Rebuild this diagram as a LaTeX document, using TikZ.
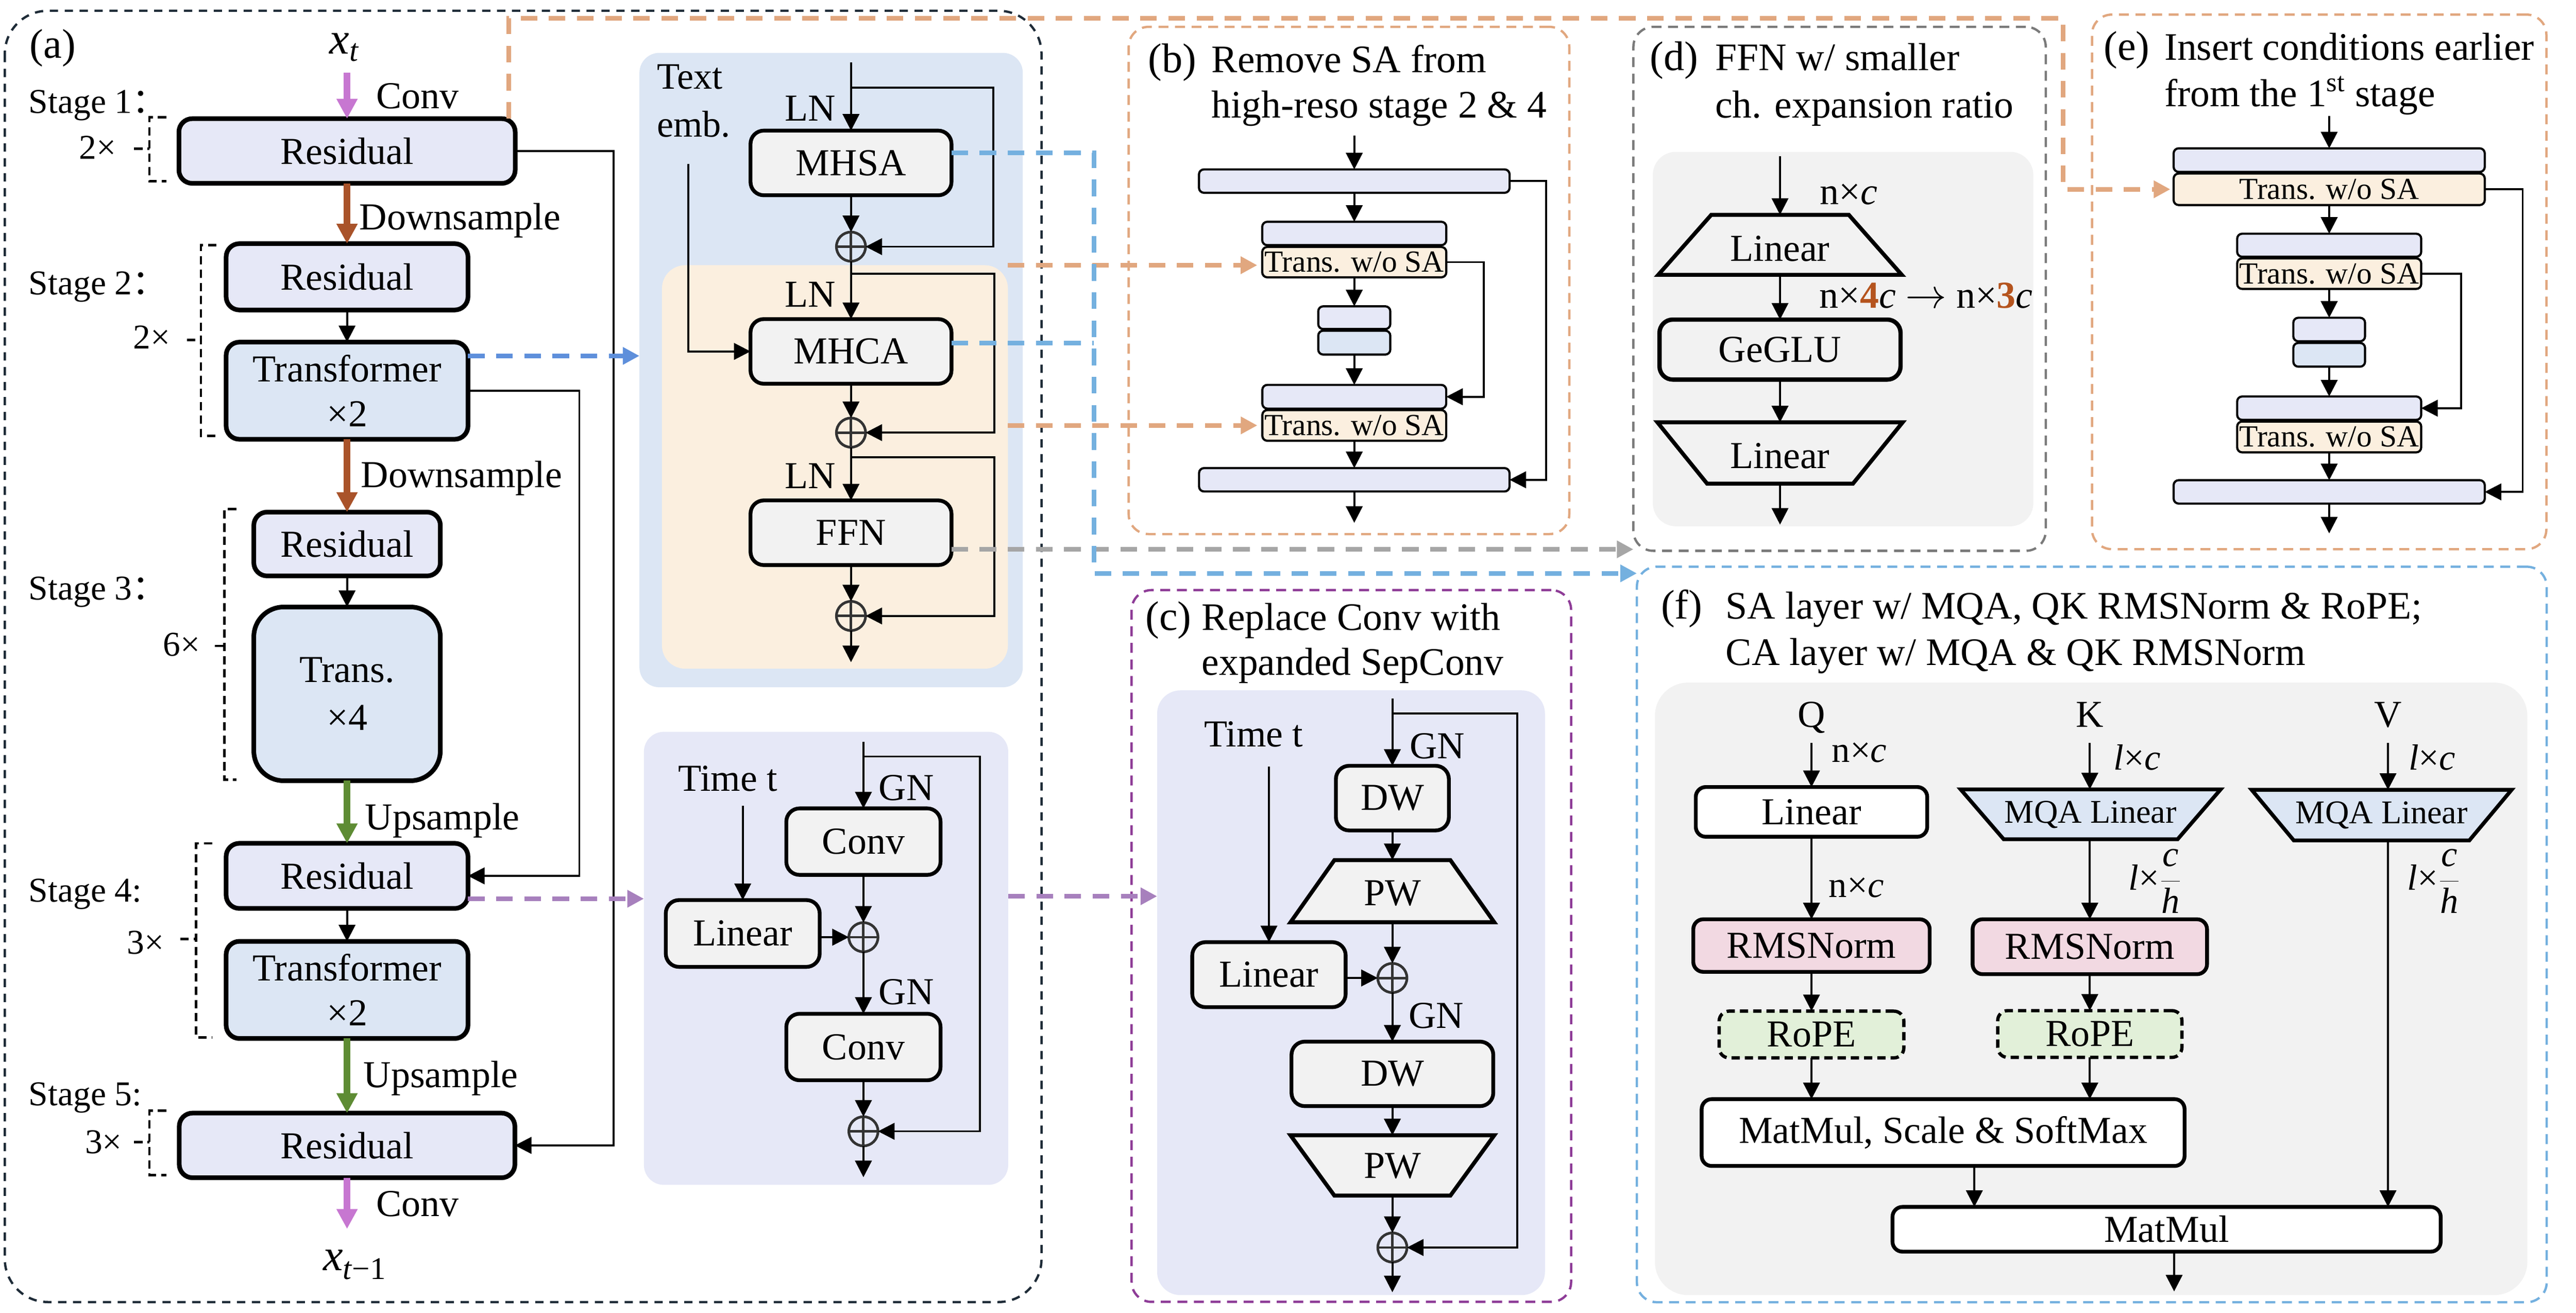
\documentclass[tikz,border=0pt]{standalone}
\usepackage{fontspec}
\setmainfont{Liberation Serif}
\newfontfamily\cjk{Noto Sans CJK SC}
\usetikzlibrary{arrows.meta}
\definecolor{lav}{HTML}{E6E8F7}
\definecolor{lblue}{HTML}{DCE6F4}
\definecolor{cream}{HTML}{FBEFDF}
\definecolor{modgray}{HTML}{F2F2F2}
\definecolor{fgray}{HTML}{F2F2F2}
\definecolor{orng}{HTML}{E1A77F}
\definecolor{bluea}{HTML}{5E8FDB}
\definecolor{blueb}{HTML}{74B0DF}
\definecolor{grayd}{HTML}{A6A6A6}
\definecolor{purp}{HTML}{A780BD}
\definecolor{purpbox}{HTML}{8E3C97}
\definecolor{slate}{HTML}{1E2B37}
\definecolor{dgrayb}{HTML}{7A7A7A}
\definecolor{magen}{HTML}{C777D1}
\definecolor{brwn}{HTML}{A9532A}
\definecolor{grn}{HTML}{5E8C34}
\definecolor{pinkf}{HTML}{F2D9E2}
\definecolor{greenf}{HTML}{E2F0D9}
\definecolor{hl}{HTML}{B5541E}
\newcommand{\myfA}{\fontsize{23}{27}\selectfont}
\newcommand{\myfT}{\fontsize{23.5}{27}\selectfont}
\newcommand{\myfS}{\fontsize{21}{24}\selectfont}
\newcommand{\myfB}{\fontsize{18.5}{20}\selectfont}
\newcommand{\myfP}{\fontsize{25}{28}\selectfont}
\newcommand{\myfQ}{\fontsize{20}{22}\selectfont}
\newcommand{\myfrac}[2]{$\displaystyle\frac{\textit{#1}}{\textit{#2}}$}
\tikzset{
  every node/.style={inner sep=0pt, outer sep=0pt, font=\myfA},
  arr/.style={line width=1.2pt, -{Triangle[length=10pt,width=10pt]}},
  fatarr/.style={line width=4pt, -{Triangle[length=12pt,width=12pt]}},
  bigbox/.style={draw, line width=2.8pt, rounded corners=8pt, align=center},
  modbox/.style={draw, line width=2.3pt, rounded corners=8pt, fill=modgray},
  fbx/.style={draw, line width=2.3pt, rounded corners=6pt, fill=white},
  barbox/.style={draw, line width=1.3pt, rounded corners=3pt, fill=lav},
  barc/.style={draw, line width=1.3pt, rounded corners=3pt, fill=cream, font=\myfB},
  cdash/.style={line width=2.8pt, dash pattern=on 10pt off 7pt, -{Triangle[length=10pt,width=10pt]}},
  cdashn/.style={line width=2.8pt, dash pattern=on 10pt off 7pt},
  panel/.style={line width=1.4pt, dash pattern=on 6pt off 4pt, rounded corners=12pt},
  brk/.style={line width=1.5pt, dash pattern=on 5pt off 3pt},
  opl/.style={circle, draw=black!80, line width=1.6pt, minimum size=17.6pt, inner sep=0pt,
    path picture={\draw[line width=1.5pt, black!80] (path picture bounding box.north) -- (path picture bounding box.south) (path picture bounding box.west) -- (path picture bounding box.east);}},
  trap/.style={draw, line width=2.4pt, line join=miter},
  lbl/.style={anchor=base west},
  lble/.style={anchor=base east},
}
\begin{document}
\begin{tikzpicture}[x=1pt,y=-1pt]
\fill[white] (0,0) rectangle (1555,791.9);
\useasboundingbox (0,0) rectangle (1555,791.9);

% ================= panel frames =================
\draw[panel, draw=slate, rounded corners=26pt, dash pattern=on 5pt off 4pt] (2.9,6.5) rectangle (628.7,785.5);
\node[panel, draw=orng, minimum width=266pt, minimum height=306pt] (bbox) at (814.3,169.2) {};
\node[panel, draw=dgrayb, minimum width=248.9pt, minimum height=316.1pt] (dbox) at (1110.45,174.25) {};
\node[panel, draw=orng, minimum width=274.3pt, minimum height=322.5pt] (ebox) at (1399.95,170.05) {};
\node[panel, draw=purpbox, minimum width=265.3pt, minimum height=429.4pt] (cbox) at (815.75,570.7) {};
\node[panel, draw=blueb, minimum width=549.2pt, minimum height=443.7pt] (fbox) at (1262.7,563.75) {};

% ================= background fills =================
\node[fill=lblue, rounded corners=12pt, minimum width=231.4pt, minimum height=382.7pt] (tfbox) at (501.7,223.25) {};
\node[fill=cream, rounded corners=14pt, minimum width=208.8pt, minimum height=243.4pt] (crbox) at (504,281.7) {};
\node[fill=lav, rounded corners=12pt, minimum width=219.9pt, minimum height=273.3pt] (rbox) at (498.65,578.15) {};
\node[fill=fgray, rounded corners=14pt, minimum width=229.7pt, minimum height=225.9pt] (dg) at (1112.55,204.55) {};
\node[fill=lav, rounded corners=14pt, minimum width=234.1pt, minimum height=364.8pt] (cin) at (815.55,598.9) {};
\node[fill=fgray, rounded corners=20pt, minimum width=526.6pt, minimum height=369.5pt] (fg) at (1262.3,596.55) {};

% ================= panel (a) =================
\node[lbl, font=\myfP] at (18,35) {(a)};
\node[lbl, font=\fontsize{27}{30}\selectfont] (xt) at (199,32.5) {\textit{x}\raisebox{-4.5pt}{\fontsize{19}{20}\selectfont\itshape t}};
\node[bigbox, fill=lav, minimum width=203pt, minimum height=39pt] (r1) at (209.5,91.1) {Residual};
\node[bigbox, fill=lav, minimum width=146pt, minimum height=40pt] (r2) at (209.5,167) {Residual};
\node[bigbox, fill=lblue, minimum width=146pt, minimum height=58.6pt] (t2) at (209.5,235.7) {Transformer\\×2};
\node[bigbox, fill=lav, minimum width=112.6pt, minimum height=38.5pt] (r3) at (209.5,328.2) {Residual};
\node[bigbox, fill=lblue, rounded corners=18pt, minimum width=112.6pt, minimum height=104.8pt] (t3) at (209.5,418.6) {Trans.\\[2pt]×4};
\node[bigbox, fill=lav, minimum width=146pt, minimum height=39.3pt] (r4) at (209.5,528.4) {Residual};
\node[bigbox, fill=lblue, minimum width=146pt, minimum height=58.6pt] (t4) at (209.5,597.2) {Transformer\\×2};
\node[bigbox, fill=lav, minimum width=202.6pt, minimum height=39pt] (r5) at (209.5,691) {Residual};
\node[lbl, font=\fontsize{27}{30}\selectfont] (xt1) at (195,766.6) {\textit{x}\raisebox{-5pt}{\fontsize{19}{20}\selectfont\textit{t}−1}};

\coordinate (xs) at (209.5,43.7);
\coordinate (xe) at (209.5,741.4);
\draw[fatarr, magen] (xs) -- (r1.north);
\node[lbl] (cv0) at (227.2,65.6) {Conv};
\draw[fatarr, brwn] (r1.south) -- (r2.north);
\node[lbl] (ds1) at (217,138.7) {Downsample};
\draw[arr] (r2.south) -- (t2.north);
\draw[fatarr, brwn] (t2.south) -- (r3.north);
\node[lbl] (ds2) at (218,294.1) {Downsample};
\draw[arr] (r3.south) -- (t3.north);
\draw[fatarr, grn] (t3.south) -- (r4.north);
\node[lbl] (us1) at (220.4,500.5) {Upsample};
\draw[arr] (r4.south) -- (t4.north);
\draw[fatarr, grn] (t4.south) -- (r5.north);
\node[lbl] (us2) at (219.5,656.1) {Upsample};
\draw[fatarr, magen] (r5.south) -- (xe);
\node[lbl] (cv9) at (227.2,733.7) {Conv};

\node[lbl, font=\myfS] (s1) at (17.4,68.2) {Stage 1{\cjk ：}};
\node[lbl, font=\myfS] (s2) at (17.4,177.8) {Stage 2{\cjk ：}};
\node[lbl, font=\myfS] (s3) at (17.4,361.8) {Stage 3{\cjk ：}};
\node[lbl, font=\myfS] (s4) at (17.4,544.2) {Stage 4:};
\node[lbl, font=\myfS] (s5) at (17.4,666.9) {Stage 5:};
\node[lble, font=\myfS] (m1) at (70.1,95.8) {2×};
\node[lble, font=\myfS] (m2) at (102.7,210.3) {2×};
\node[lble, font=\myfS] (m3) at (120.9,395.7) {6×};
\node[lble, font=\myfS] (m4) at (99.1,575.6) {3×};
\node[lble, font=\myfS] (m5) at (73.7,696) {3×};

\draw[brk] (100.3,70.8) -- (90.2,70.8) -- (90.2,109.3) -- (100.3,109.3);
\draw[brk] (81,89.8) -- (90.2,89.8);
\draw[brk] (130.5,147.8) -- (121.3,147.8) -- (121.3,263) -- (130.5,263);
\draw[brk] (113,205) -- (121.3,205);
\draw[brk] (142.6,307) -- (135.4,307) -- (135.4,470.5) -- (142.6,470.5);
\draw[brk] (129.8,389.7) -- (135.4,389.7);
\draw[brk] (128,508.8) -- (118.4,508.8) -- (118.4,625.8) -- (128,625.8);
\draw[brk] (108.8,566.6) -- (118.4,566.6);
\draw[brk] (100.3,670) -- (90.2,670) -- (90.2,708.8) -- (100.3,708.8);
\draw[brk] (81,689) -- (90.2,689);

\coordinate (sa) at (370.3,0);
\coordinate (sb) at (349.7,0);
\draw[arr] (r1.east) -- (r1.east -| sa) -- (r5.east -| sa) -- (r5.east);
\draw[arr] (t2.east) -- (t2.east -| sb) -- (r4.east -| sb) -- (r4.east);

% ================= transformer detail =================
\node[lbl, font=\fontsize{22.5}{26}\selectfont] (te1) at (396.6,53.8) {Text};
\node[lbl, font=\fontsize{22.5}{26}\selectfont] (te2) at (396.6,82.7) {emb.};
\node[modbox, minimum width=121.3pt, minimum height=39pt] (mhsa) at (513.7,98.3) {MHSA};
\node[opl] (p1) at (513.7,148.8) {};
\node[modbox, minimum width=121.3pt, minimum height=39pt] (mhca) at (513.7,212) {MHCA};
\node[opl] (p2) at (513.7,261) {};
\node[modbox, minimum width=121.3pt, minimum height=39pt] (ffn) at (513.7,321.4) {FFN};
\node[opl] (p3) at (513.7,371.6) {};
\node[lble] (ln1) at (504.5,72.8) {LN};
\node[lble] (ln2) at (504.5,185.3) {LN};
\node[lble] (ln3) at (504.5,294.8) {LN};
\coordinate (tin) at (513.7,37.7);
\coordinate (tout) at (513.7,399.5);
\coordinate (tx) at (599.6,0);
\coordinate (tx2) at (600.2,0);
\coordinate (j1) at (513.7,52.8);
\coordinate (j2) at (513.7,165.2);
\coordinate (j3) at (513.7,275.8);
\coordinate (te) at (415.5,98.8);
\draw[arr] (tin) -- (mhsa.north);
\draw[arr] (j1) -- (j1 -| tx) -- (p1.east -| tx) -- (p1.east);
\draw[arr] (mhsa.south) -- (p1.north);
\draw[arr] (p1.south) -- (mhca.north);
\draw[arr] (j2) -- (j2 -| tx2) -- (p2.east -| tx2) -- (p2.east);
\draw[arr] (mhca.south) -- (p2.north);
\draw[arr] (p2.south) -- (ffn.north);
\draw[arr] (j3) -- (j3 -| tx2) -- (p3.east -| tx2) -- (p3.east);
\draw[arr] (ffn.south) -- (p3.north);
\draw[arr] (p3.south) -- (tout);
\draw[arr] (te) |- (mhca.west);

% ================= residual detail =================
\node[modbox, minimum width=93.1pt, minimum height=40.1pt] (cv1) at (521.2,507.75) {Conv};
\node[opl] (q1) at (521.2,565.4) {};
\node[modbox, minimum width=92.9pt, minimum height=40.3pt] (lin) at (448.35,563.15) {Linear};
\node[modbox, minimum width=93.1pt, minimum height=40.1pt] (cv2) at (521.2,631.65) {Conv};
\node[opl] (q2) at (521.2,682.5) {};
\node[lbl] (tt0) at (409.5,477.2) {Time t};
\node[lbl] (gn1) at (530.5,482.7) {GN};
\node[lbl] (gn2) at (530.5,606.1) {GN};
\coordinate (rin) at (521.2,447.4);
\coordinate (rj) at (521.2,456.4);
\coordinate (rx) at (591.5,0);
\coordinate (rout) at (521.2,710.2);
\coordinate (tt) at (448.35,486.1);
\draw[arr] (rin) -- (cv1.north);
\draw[arr] (rj) -- (rj -| rx) -- (q2.east -| rx) -- (q2.east);
\draw[arr] (cv1.south) -- (q1.north);
\draw[arr] (tt) -- (lin.north);
\draw[arr] (lin.east |- q1) -- (q1.west);
\draw[arr] (q1.south) -- (cv2.north);
\draw[arr] (cv2.south) -- (q2.north);
\draw[arr] (q2.south) -- (rout);

% ================= panel (b) =================
\node[lbl, font=\myfP] (bl) at (693,43.6) {(b)};
\node[lbl, font=\myfT] (bt1) at (731.4,43.6) {Remove SA from};
\node[lbl, font=\myfT] (bt2) at (731.4,71) {high-reso stage 2 \& 4};
\node[barbox, minimum width=187.5pt, minimum height=14.1pt] (b1) at (817.5,109.25) {};
\node[barbox, minimum width=111.1pt, minimum height=14.1pt] (b2) at (817.5,140.85) {};
\node[barc, minimum width=111.1pt, minimum height=18.3pt] (b2b) at (817.5,158.15) {Trans. w/o SA};
\node[barbox, minimum width=43.5pt, minimum height=13.7pt] (bs1) at (817.5,191.65) {};
\node[barbox, fill=lblue, minimum width=43.5pt, minimum height=14.4pt] (bs2) at (817.5,206.7) {};
\node[barbox, minimum width=111pt, minimum height=14.3pt] (b3) at (817.5,239.35) {};
\node[barc, minimum width=111pt, minimum height=18.5pt] (b3b) at (817.5,256.65) {Trans. w/o SA};
\node[barbox, minimum width=187.4pt, minimum height=14.1pt] (b4) at (817.5,289.45) {};
\coordinate (bin) at (817.5,81.9);
\coordinate (bout) at (817.5,315.4);
\coordinate (bx1) at (933.2,0);
\coordinate (bx2) at (895.6,0);
\draw[arr] (bin) -- (b1.north);
\draw[arr] (b1.south) -- (b2.north);
\draw[arr] (b2b.south) -- (bs1.north);
\draw[arr] (bs2.south) -- (b3.north);
\draw[arr] (b3b.south) -- (b4.north);
\draw[arr] (b4.south) -- (bout);
\draw[arr] (b1.east) -- (b1.east -| bx1) -- (b4.east -| bx1) -- (b4.east);
\draw[arr] (b2b.east) -- (b2b.east -| bx2) -- (b3.east -| bx2) -- (b3.east);

% ================= panel (d) =================
\node[lbl, font=\myfP] (dl) at (995.9,42.5) {(d)};
\node[lbl, font=\myfT] (dt1) at (1035.4,42.5) {FFN w/ smaller};
\node[lbl, font=\myfT] (dt2) at (1035.4,71) {ch. expansion ratio};
\draw[trap, fill=fgray] (1033,129.6) -- (1116,129.6) -- (1148,165.8) -- (1001,165.8) -- cycle;
\node (dl1) at (1074.5,150) {Linear};
\coordinate (dl1t) at (1074.5,129.6);
\coordinate (dl1b) at (1074.5,165.8);
\node[modbox, line width=2.6pt, minimum width=145.5pt, minimum height=36.2pt] (geglu) at (1074.5,210.9) {GeGLU};
\draw[trap, fill=fgray] (1000.5,254.8) -- (1148.5,254.8) -- (1118.5,291.8) -- (1030.5,291.8) -- cycle;
\node (dl2) at (1074.5,275) {Linear};
\coordinate (dl2t) at (1074.5,254.8);
\coordinate (dl2b) at (1074.5,291.8);
\coordinate (din) at (1074.5,94.2);
\coordinate (dout) at (1074.5,316.5);
\draw[arr] (din) -- (dl1t);
\draw[arr] (dl1b) -- (geglu.north);
\draw[arr] (geglu.south) -- (dl2t);
\draw[arr] (dl2b) -- (dout);
\node[lbl] (dnc) at (1098.7,123.3) {n×\textit{c}};
\node[lbl] (dnc2) at (1098.3,185.8) {n×{\color{hl}\bfseries 4}\textit{c} $\rightarrow$ n×{\color{hl}\bfseries 3}\textit{c}};

% ================= panel (e) =================
\node[lbl, font=\myfP] (el) at (1269.9,36.2) {(e)};
\node[lbl, font=\myfT] (et1) at (1306.5,36.2) {Insert conditions earlier};
\node[lbl, font=\myfT] (et2) at (1306.5,64.3) {from the 1\textsuperscript{st} stage};
\node[barbox, minimum width=187.8pt, minimum height=14.2pt] (e1) at (1406,96.6) {};
\node[barc, minimum width=187.8pt, minimum height=19pt] (e1b) at (1406,114.2) {Trans. w/o SA};
\node[barbox, minimum width=111.1pt, minimum height=13.9pt] (e2) at (1406,147.95) {};
\node[barc, minimum width=111.1pt, minimum height=18.4pt] (e2b) at (1406,165.1) {Trans. w/o SA};
\node[barbox, minimum width=43.3pt, minimum height=14.2pt] (es1) at (1406,198.8) {};
\node[barbox, fill=lblue, minimum width=43.3pt, minimum height=14.3pt] (es2) at (1406,214.05) {};
\node[barbox, minimum width=111.1pt, minimum height=14.1pt] (e3) at (1406,246.25) {};
\node[barc, minimum width=111.1pt, minimum height=18.6pt] (e3b) at (1406,263.6) {Trans. w/o SA};
\node[barbox, minimum width=187.8pt, minimum height=14.1pt] (e4) at (1406,296.75) {};
\coordinate (ein) at (1406,70);
\coordinate (eout) at (1406,321.8);
\coordinate (ex1) at (1522.8,0);
\coordinate (ex2) at (1485.6,0);
\draw[arr] (ein) -- (e1.north);
\draw[arr] (e1b.south) -- (e2.north);
\draw[arr] (e2b.south) -- (es1.north);
\draw[arr] (es2.south) -- (e3.north);
\draw[arr] (e3b.south) -- (e4.north);
\draw[arr] (e4.south) -- (eout);
\draw[arr] (e1b.east) -- (e1b.east -| ex1) -- (e4.east -| ex1) -- (e4.east);
\draw[arr] (e2b.east) -- (e2b.east -| ex2) -- (e3.east -| ex2) -- (e3.east);

% ================= panel (c) =================
\node[lbl, font=\myfP] (cl) at (691.5,380.1) {(c)};
\node[lbl, font=\myfT] (ct1) at (725.5,380.1) {Replace Conv with};
\node[lbl, font=\myfT] (ct2) at (725.5,407.1) {expanded SepConv};
\node[modbox, minimum width=68.2pt, minimum height=39pt] (dw1) at (840.5,481.5) {DW};
\draw[trap, fill=modgray] (805.5,518.9) -- (875.5,518.9) -- (902,556.4) -- (779,556.4) -- cycle;
\node (pw1) at (840.5,539) {PW};
\coordinate (pw1t) at (840.5,518.9);
\coordinate (pw1b) at (840.5,556.4);
\node[opl] (c1) at (840.5,590) {};
\node[modbox, minimum width=92.6pt, minimum height=39.2pt] (clin) at (766,588) {Linear};
\node[lbl] (ctt0) at (726.8,450.6) {Time t};
\node[modbox, minimum width=121.8pt, minimum height=38.9pt] (dw2) at (840.5,647.85) {DW};
\draw[trap, fill=modgray] (779,684.9) -- (902,684.9) -- (875.5,721.3) -- (805.5,721.3) -- cycle;
\node (pw2) at (840.5,703.5) {PW};
\coordinate (pw2t) at (840.5,684.9);
\coordinate (pw2b) at (840.5,721.3);
\node[opl] (c2) at (840.5,752.6) {};
\node[lbl] (cgn1) at (851,457.5) {GN};
\node[lbl] (cgn2) at (850.4,620.4) {GN};
\coordinate (cin0) at (840.5,421.4);
\coordinate (cj) at (840.5,430.5);
\coordinate (ccx) at (916,0);
\coordinate (cout) at (840.5,779.6);
\coordinate (ctt) at (766,462.6);
\draw[arr] (cin0) -- (dw1.north);
\draw[arr] (cj) -- (cj -| ccx) -- (c2.east -| ccx) -- (c2.east);
\draw[arr] (dw1.south) -- (pw1t);
\draw[arr] (pw1b) -- (c1.north);
\draw[arr] (ctt) -- (clin.north);
\draw[arr] (clin.east |- c1) -- (c1.west);
\draw[arr] (c1.south) -- (dw2.north);
\draw[arr] (dw2.south) -- (pw2t);
\draw[arr] (pw2b) -- (c2.north);
\draw[arr] (c2.south) -- (cout);

% ================= panel (f) =================
\node[lbl, font=\myfP] (fl) at (1002.7,373.2) {(f)};
\node[lbl, font=\myfT] (ft1) at (1041.8,373.2) {SA layer w/ MQA, QK RMSNorm \& RoPE;};
\node[lbl, font=\myfT] (ft2) at (1041.8,401.4) {CA layer w/ MQA \& QK RMSNorm};
\node[anchor=base] (fq) at (1093.5,438.6) {Q};
\node[anchor=base] (fk) at (1261.5,438.6) {K};
\node[anchor=base] (fv) at (1441.5,438.6) {V};
\node[fbx, minimum width=139.7pt, minimum height=30pt] (qlin) at (1093.5,489.8) {Linear};
\draw[trap, line width=2.3pt, fill=lblue] (1183.5,476.2) -- (1340.5,476.2) -- (1314.5,506.3) -- (1209.5,506.3) -- cycle;
\node[font=\myfQ] (klin) at (1262,491.5) {MQA Linear};
\draw[trap, line width=2.3pt, fill=lblue] (1359.2,476.5) -- (1516.1,476.5) -- (1490.6,507) -- (1384.6,507) -- cycle;
\node[font=\myfQ] (vlin) at (1437.7,491.8) {MQA Linear};
\coordinate (klint) at (1261.5,476.2);
\coordinate (klinb) at (1261.5,506.3);
\coordinate (vlint) at (1441.5,476.5);
\coordinate (vlinb) at (1441.5,507);
\node[fbx, fill=pinkf, minimum width=142.7pt, minimum height=31.7pt] (qrms) at (1093.5,570.45) {RMSNorm};
\node[fbx, fill=pinkf, minimum width=141.5pt, minimum height=33.1pt] (krms) at (1261.5,571.15) {RMSNorm};
\node[fbx, fill=greenf, line width=2pt, dash pattern=on 5pt off 3pt, minimum width=111.5pt, minimum height=28.2pt] (qrope) at (1093.5,624.1) {RoPE};
\node[fbx, fill=greenf, line width=2pt, dash pattern=on 5pt off 3pt, minimum width=111.2pt, minimum height=28.2pt] (krope) at (1261.5,623.8) {RoPE};
\node[fbx, minimum width=291.5pt, minimum height=40.3pt] (mm1) at (1172.95,683.25) {MatMul, Scale \& SoftMax};
\node[fbx, minimum width=330.9pt, minimum height=27pt] (mm2) at (1307.85,741.6) {MatMul};
\coordinate (qa) at (1093.5,448.3);
\coordinate (ka) at (1261.5,448.3);
\coordinate (va) at (1441.5,448.3);
\coordinate (mx) at (1191.8,0);
\coordinate (mox) at (1312.4,0);
\coordinate (fout) at (1312.4,779.1);
\draw[arr] (qa) -- (qlin.north);
\draw[arr] (ka) -- (klint);
\draw[arr] (va) -- (vlint);
\draw[arr] (qlin.south) -- (qrms.north);
\draw[arr] (klinb) -- (krms.north);
\draw[arr] (qrms.south) -- (qrope.north);
\draw[arr] (krms.south) -- (krope.north);
\draw[arr] (qrope.south) -- (qrope.south |- mm1.north);
\draw[arr] (krope.south) -- (krope.south |- mm1.north);
\draw[arr] (vlinb) -- (vlinb |- mm2.north);
\draw[arr] (mm1.south -| mx) -- (mm2.north -| mx);
\draw[arr] (mm2.south -| mox) -- (fout);
\node[lbl, font=\fontsize{22}{24}\selectfont] (fnc1) at (1105.8,459.9) {n×\textit{c}};
\node[lbl, font=\fontsize{22}{24}\selectfont] (fnc2) at (1104,541.2) {n×\textit{c}};
\node[lbl, font=\fontsize{22}{24}\selectfont] (flc1) at (1275.9,464.6) {\textit{l}×\textit{c}};
\node[lbl, font=\fontsize{22}{24}\selectfont] (flc2) at (1454,464.6) {\textit{l}×\textit{c}};
\node[lbl, font=\fontsize{22}{24}\selectfont] (flh1) at (1285,536.8) {\textit{l}×\myfrac{c}{h}};
\node[lbl, font=\fontsize{22}{24}\selectfont] (flh2) at (1453.2,536.8) {\textit{l}×\myfrac{c}{h}};

% ================= coloured dashed connectors =================
\coordinate (bd) at ([yshift=21pt]t2.east);
\draw[cdash, bluea] (bd) -- (bd -| tfbox.west);
\coordinate (pd) at ([yshift=-13.8pt]r4.east);
\draw[cdash, purp] (pd) -- (pd -| rbox.west);
\coordinate (pd2) at ([yshift=37.45pt]rbox.east);
\draw[cdash, purp] (pd2) -- (pd2 -| cin.west);
\draw[cdash, orng, shorten >=3pt] (crbox.north east) -- (crbox.north east -| b2b.west);
\draw[cdash, orng, shorten >=3pt] (b3b.west -| crbox.east) -- (b3b.west);
\coordinate (gd) at ([yshift=-10pt]ffn.east);
\draw[cdash, grayd] (gd) -- (gd -| dbox.west);
\coordinate (bv) at (660.3,0);
\coordinate (hs) at ([yshift=6pt]mhsa.east);
\coordinate (hc) at ([yshift=5pt]mhca.east);
\coordinate (fin) at ([yshift=-4pt]fbox.north west);
\draw[cdash, blueb] (hs) -- (hs -| bv) -- (fin -| bv) -- (fin);
\draw[cdashn, blueb] (hc) -- (hc -| bv);
\coordinate (o1) at ([xshift=-4pt]r1.north east);
\coordinate (o2) at (1245.3,10.9);
\draw[cdash, orng, shorten >=2pt] (o1) |- (o2) |- (e1b.west);

\end{tikzpicture}
\end{document}
